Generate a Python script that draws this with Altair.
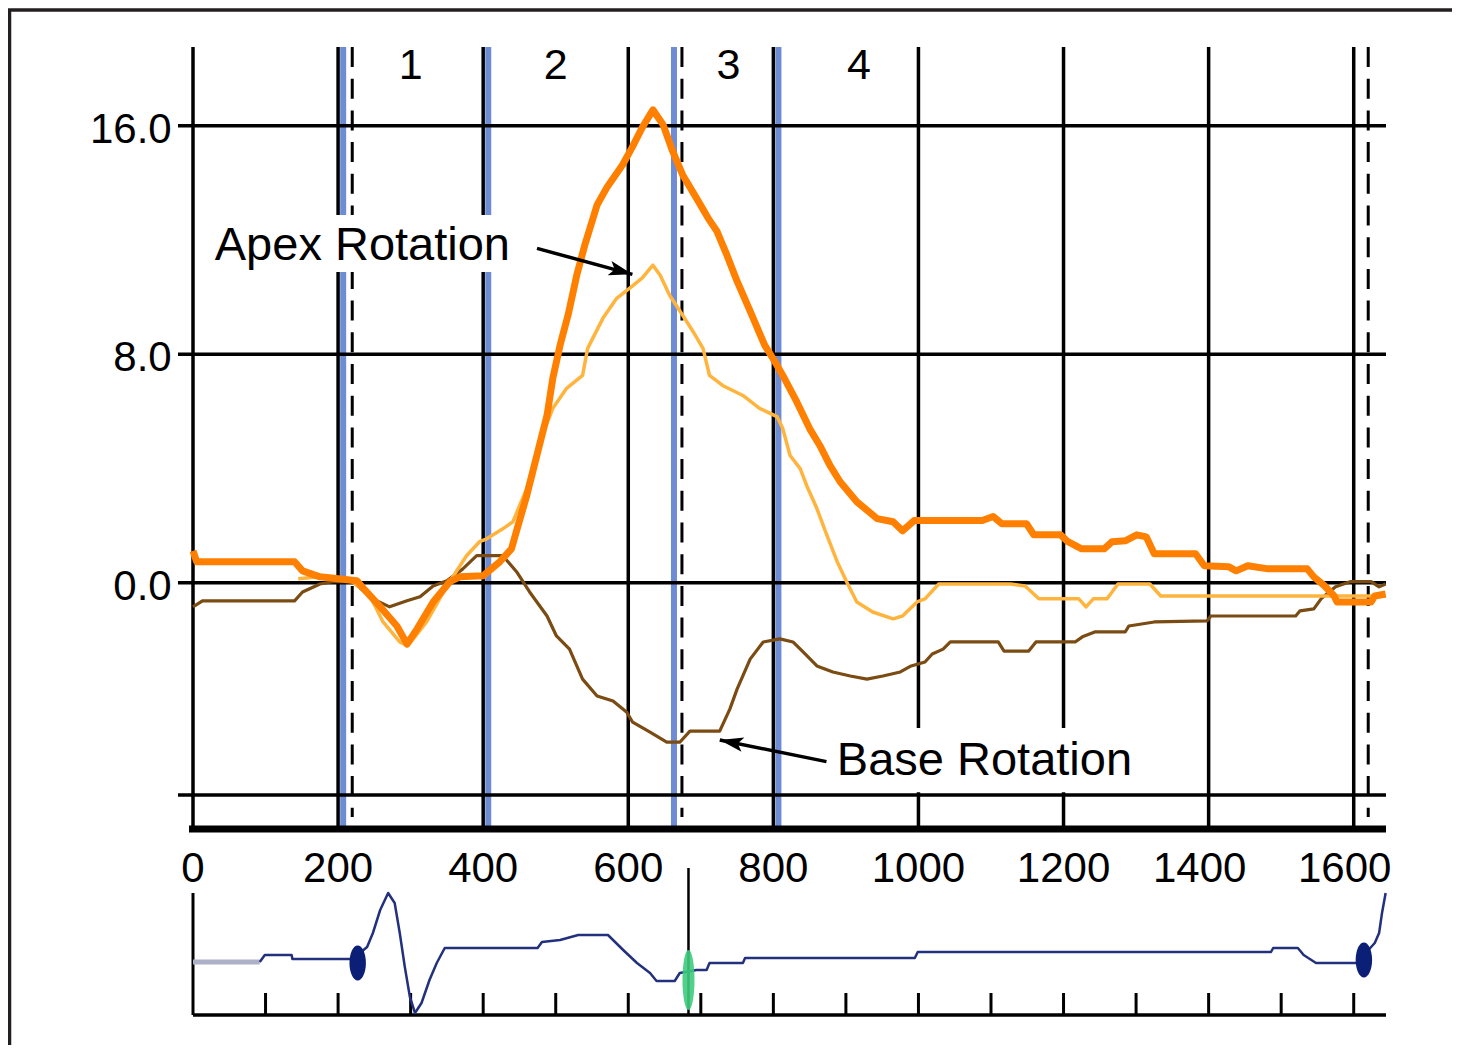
import altair as alt
import pandas as pd

FONT = "Liberation Sans"

# ---------------- values ----------------
x_ticks = [0, 200, 400, 600, 800, 1000, 1200, 1400, 1600]
x_tick_labels = ["0", "200", "400", "600", "800", "1000", "1200", "1400", "1600"]
y_ticks = [16, 8, 0, -7.43]
y_tick_labels = ["16.0", "8.0", "0.0", ""]
phase_labels = ["1", "2", "3", "4"]
phase_x = [300, 500, 738, 918]
phase_y = [17.64, 17.64, 17.64, 17.64]
phase_lines = [207, 407, 663, 807]          # blue event markers
dashed_lines = [219.5, 674, 1620]           # dashed markers
ecg_ticks = [100, 200, 300, 400, 500, 600, 700, 800, 900, 1000,
             1100, 1200, 1300, 1400, 1500, 1600]
ecg_marker = [683]

# apex rotation (thick dark orange)
apex_rotation = [
    (0, 1.12), (5, 0.74), (140, 0.74), (151, 0.42), (175, 0.21), (226, 0.07),
    (233, -0.14), (257, -0.81), (281, -1.51), (295, -2.14), (309, -1.61),
    (331, -0.67), (354, 0.04), (368, 0.21), (400, 0.25), (423, 0.74),
    (439, 1.19), (448, 2.0), (460, 3.05), (474, 4.46), (488, 5.86),
    (496, 7.16), (506, 8.32), (517, 9.37), (529, 10.77), (540, 11.82),
    (557, 13.23), (570, 13.82), (592, 14.63), (605, 15.23), (619, 15.93),
    (634, 16.56), (648, 16.04), (661, 15.12), (675, 14.28), (694, 13.47),
    (710, 12.77), (722, 12.32), (736, 11.47), (750, 10.56), (768, 9.51),
    (788, 8.32), (802, 7.75), (813, 7.26), (832, 6.35), (850, 5.40),
    (864, 4.81), (878, 4.11), (892, 3.54), (915, 2.84), (943, 2.25),
    (965, 2.14), (978, 1.82), (994, 2.18), (1088, 2.18), (1103, 2.32),
    (1115, 2.07), (1149, 2.07), (1159, 1.68), (1196, 1.68), (1206, 1.44),
    (1225, 1.19), (1256, 1.19), (1267, 1.44), (1285, 1.47), (1301, 1.68),
    (1314, 1.61), (1325, 1.02), (1382, 1.02), (1394, 0.60), (1428, 0.56),
    (1438, 0.42), (1454, 0.60), (1482, 0.49), (1536, 0.49), (1545, 0.21),
    (1560, -0.11), (1573, -0.46), (1577, -0.67), (1624, -0.67),
    (1629, -0.46), (1644, -0.39),
]

# second apex trace (thin light orange)
apex_thin = [
    (145, 0.14), (175, 0.21), (220, 0.04), (244, -0.46), (262, -1.37),
    (285, -2.07), (296, -2.21), (322, -1.37), (350, -0.11), (377, 0.95),
    (395, 1.44), (405, 1.54), (427, 1.89), (441, 2.14), (460, 3.30),
    (478, 4.95), (496, 6.11), (515, 6.81), (537, 7.26), (544, 8.21),
    (565, 9.26), (584, 9.96), (602, 10.32), (619, 10.67), (634, 11.12),
    (644, 10.77), (657, 10.07), (675, 9.37), (689, 8.81), (703, 8.21),
    (712, 7.26), (730, 6.91), (758, 6.56), (781, 6.11), (805, 5.82),
    (813, 5.40), (823, 4.46), (837, 4.0), (846, 3.40), (860, 2.60),
    (874, 1.65), (888, 0.74), (901, 0.04), (915, -0.67), (937, -1.02),
    (965, -1.26), (978, -1.16), (998, -0.67), (1009, -0.56), (1028, -0.04),
    (1127, -0.04), (1147, -0.11), (1166, -0.56), (1221, -0.56),
    (1231, -0.84), (1241, -0.56), (1260, -0.56), (1275, -0.04),
    (1319, -0.04), (1334, -0.46), (1644, -0.46),
]

# base rotation (brown)
base_rotation = [
    (0, -0.84), (13, -0.63), (140, -0.63), (151, -0.32), (175, -0.04),
    (193, 0.04), (220, 0.04), (248, -0.56), (271, -0.84), (295, -0.63),
    (313, -0.49), (331, -0.11), (350, 0.07), (372, 0.49), (391, 0.95),
    (427, 0.95), (446, 0.39), (464, -0.32), (488, -1.16), (501, -1.86),
    (519, -2.32), (537, -3.37), (557, -3.96), (579, -4.14), (598, -4.53),
    (606, -4.88), (630, -5.23), (653, -5.58), (671, -5.58), (685, -5.19),
    (726, -5.19), (740, -4.42), (750, -3.72), (768, -2.67), (786, -2.07),
    (809, -1.96), (827, -2.07), (841, -2.42), (860, -2.91), (882, -3.12),
    (906, -3.26), (929, -3.37), (951, -3.26), (975, -3.12), (990, -2.91),
    (1009, -2.77), (1019, -2.49), (1034, -2.32), (1044, -2.07),
    (1110, -2.07), (1118, -2.39), (1152, -2.39), (1162, -2.07),
    (1216, -2.07), (1226, -1.89), (1243, -1.72), (1285, -1.72),
    (1290, -1.51), (1325, -1.37), (1398, -1.33), (1403, -1.16),
    (1520, -1.16), (1526, -0.98), (1545, -0.91), (1555, -0.56),
    (1575, -0.14), (1595, 0.04), (1624, 0.04), (1635, -0.14), (1644, -0.04),
]

# ECG trace (arbitrary amplitude units)
ecg_lead = [(0, 5.3), (92, 5.3)]
ecg = [
    (92, 5.3), (99, 6.0), (136, 6.0), (137, 5.6), (220, 5.6), (240, 6.8),
    (248, 8.2), (258, 10.5), (269, 12.2), (278, 11.2), (285, 8.2),
    (292, 4.8), (299, 1.8), (306, 0.2), (315, 1.2), (326, 3.5), (336, 5.2),
    (347, 6.7), (475, 6.7), (481, 7.3), (506, 7.5), (531, 8.0), (572, 8.0),
    (593, 6.5), (612, 5.2), (630, 4.2), (639, 3.4), (664, 3.4), (671, 4.2),
    (694, 4.5), (708, 4.5), (712, 5.2), (758, 5.2), (761, 5.7), (995, 5.7),
    (999, 6.3), (1486, 6.3), (1489, 6.7), (1523, 6.7), (1531, 6.0),
    (1548, 5.2), (1604, 5.2), (1629, 7.2), (1635, 8.2), (1639, 10.2),
    (1644, 12.2),
]
ecg_blobs = [(227, 5.2), (1614, 5.5)]
ecg_green = [(683, 3.5)]

annot_text = ["Apex Rotation", "Base Rotation"]
annot_x = [30, 887.5]
annot_y = [11.30, -6.73]
annot_box = [(16, 443, 10.88, 12.88), (880, 1300, -7.33, -5.08)]
arrows = [(474.2, 11.71, 605.7, 10.80, 15.2), (873.2, -6.26, 726.1, -5.50, 191.5)]

# ---------------- scales ----------------
X_MAX = 1644.5
Y_TOP, Y_BOT = 18.76, -15.13
AXIS_Y = -8.62
E_TOP = 96.8
TICK_X0 = -20.7          # left end of the y ticks
YLABEL_X = -29.4         # right edge of the y tick labels
XLABEL_Y = -9.32         # top of the x tick labels

xs = alt.Scale(domain=[0, X_MAX], nice=False, zero=False)
ys = alt.Scale(domain=[Y_BOT, Y_TOP], nice=False, zero=False)
es = alt.Scale(domain=[0, E_TOP], nice=False, zero=False)


def X(f):
    return alt.X(f, type="quantitative", scale=xs, axis=None)


def Y(f):
    return alt.Y(f, type="quantitative", scale=ys, axis=None)


def E(f):
    return alt.Y(f, type="quantitative", scale=es, axis=None)


def ellipse_path(rx):
    k = 0.5523
    return (f"M0,-1 C{rx*k:.4f},-1 {rx:.4f},{-k:.4f} {rx:.4f},0 "
            f"C{rx:.4f},{k:.4f} {rx*k:.4f},1 0,1 "
            f"C{-rx*k:.4f},1 {-rx:.4f},{k:.4f} {-rx:.4f},0 "
            f"C{-rx:.4f},{-k:.4f} {-rx*k:.4f},-1 0,-1 Z")


ARROW = "M0,0 L-2,-0.62 L-1.55,0 L-2,0.62 Z"

one = pd.DataFrame({"k": [0]})

# ---------------- main panel ----------------
frame_left = alt.Chart(one).mark_rule(color="#231F20", strokeWidth=3.5).encode(
    x=alt.value(-183.5), y=alt.value(-37), y2=alt.value(1000))
frame_top = alt.Chart(one).mark_rule(color="#231F20", strokeWidth=3.5).encode(
    x=alt.value(-185), x2=alt.value(1260), y=alt.value(-37))

blue = alt.Chart(pd.DataFrame({"x": phase_lines, "y0": AXIS_Y + 0.1, "y1": Y_TOP})).mark_rule(
    color="#6E8CD4", strokeWidth=6).encode(x=X("x"), y=Y("y0"), y2="y1")

vgrid = alt.Chart(pd.DataFrame({"x": x_ticks, "y0": AXIS_Y, "y1": Y_TOP})).mark_rule(
    color="black", strokeWidth=3.5).encode(x=X("x"), y=Y("y0"), y2="y1")

dashed = alt.Chart(pd.DataFrame({"x": dashed_lines, "y0": -8.2, "y1": Y_TOP})).mark_rule(
    color="black", strokeWidth=3, strokeDash=[20, 11.7]).encode(x=X("x"), y=Y("y1"), y2="y0")

hgrid = alt.Chart(pd.DataFrame({"v": y_ticks, "x0": TICK_X0, "x1": X_MAX})).mark_rule(
    color="black", strokeWidth=3.5).encode(x=X("x0"), x2="x1", y=Y("v"))

thick = alt.Chart(pd.DataFrame({"x0": [-5.5], "x1": [X_MAX], "v": [AXIS_Y]})).mark_rule(
    color="black", strokeWidth=7).encode(x=X("x0"), x2="x1", y=Y("v"))

ylabels = alt.Chart(pd.DataFrame({"label": y_tick_labels, "v": y_ticks, "x": YLABEL_X})).mark_text(
    align="right", baseline="middle", dy=4, font=FONT, fontSize=42, color="black").encode(
    x=X("x"), y=Y("v"), text="label:N")

xl_df = pd.DataFrame({"label": x_tick_labels, "x": x_ticks, "v": XLABEL_Y})
xlabels = alt.Chart(xl_df).transform_filter("datum.x < 1400").mark_text(
    align="center", baseline="top", font=FONT, fontSize=42, color="black").encode(
    x=X("x"), y=Y("v"), text="label:N")
xlabels_r = alt.Chart(xl_df).transform_filter("datum.x >= 1400").mark_text(
    align="center", baseline="top", dx=-9, font=FONT, fontSize=42, color="black").encode(
    x=X("x"), y=Y("v"), text="label:N")

boxes = alt.Chart(pd.DataFrame(annot_box, columns=["x0", "x1", "y0", "y1"])).mark_rect(
    color="white").encode(x=X("x0"), x2="x1", y=Y("y0"), y2="y1")

brown = alt.Chart(pd.DataFrame(base_rotation, columns=["x", "v"])).mark_line(
    color="#7A4B12", strokeWidth=3.2, strokeJoin="round").encode(x=X("x"), y=Y("v"))
light = alt.Chart(pd.DataFrame(apex_thin, columns=["x", "v"])).mark_line(
    color="#FFB43E", strokeWidth=3.5, strokeJoin="round").encode(x=X("x"), y=Y("v"))
dark = alt.Chart(pd.DataFrame(apex_rotation, columns=["x", "v"])).mark_line(
    color="#FF8000", strokeWidth=7, strokeJoin="round").encode(x=X("x"), y=Y("v"))

arr_df = pd.DataFrame(arrows, columns=["x0", "y0", "x1", "y1", "ang"])
shafts = alt.Chart(arr_df).mark_rule(color="black", strokeWidth=3.5).encode(
    x=X("x0"), y=Y("y0"), x2="x1", y2="y1")
heads = alt.Chart(arr_df).mark_point(
    shape=ARROW, filled=True, color="black", size=560, opacity=1).encode(
    x=X("x1"), y=Y("y1"), angle=alt.Angle("ang", type="quantitative", scale=None))

annots = alt.Chart(pd.DataFrame({"label": annot_text, "x": annot_x, "v": annot_y})).mark_text(
    align="left", baseline="alphabetic", font=FONT, fontSize=47, color="black").encode(
    x=X("x"), y=Y("v"), text="label:N")

phases = alt.Chart(pd.DataFrame({"label": phase_labels, "x": phase_x, "v": phase_y})).mark_text(
    align="center", baseline="alphabetic", font=FONT, fontSize=43, color="black").encode(
    x=X("x"), y=Y("v"), text="label:N")

main = alt.layer(frame_left, frame_top, blue, vgrid, dashed, hgrid, thick, ylabels,
                 xlabels, xlabels_r, boxes, brown, light, dark, shafts, heads,
                 annots, phases)

# ---------------- ECG strip ----------------
e_base = alt.Chart(pd.DataFrame({"x0": [0.0], "x1": [X_MAX], "a": [0.0]})).mark_rule(
    color="black", strokeWidth=3.5).encode(x=X("x0"), x2="x1", y=E("a"))
e_left = alt.Chart(pd.DataFrame({"x": [0.0], "a0": [0.0], "a1": [12.2]})).mark_rule(
    color="black", strokeWidth=3).encode(x=X("x"), y=E("a0"), y2="a1")
e_ticks = alt.Chart(pd.DataFrame({"x": ecg_ticks, "a0": 0.0, "a1": 2.2})).mark_rule(
    color="black", strokeWidth=3).encode(x=X("x"), y=E("a0"), y2="a1")
e_marker = alt.Chart(pd.DataFrame({"x": ecg_marker, "a0": 0.0, "a1": 14.7})).mark_rule(
    color="black", strokeWidth=2.5).encode(x=X("x"), y=E("a0"), y2="a1")
e_lead = alt.Chart(pd.DataFrame(ecg_lead, columns=["x", "a"])).mark_line(
    color="#AEB0C8", strokeWidth=5).encode(x=X("x"), y=E("a"))
e_line = alt.Chart(pd.DataFrame(ecg, columns=["x", "a"])).mark_line(
    color="#22307E", strokeWidth=2.5, strokeJoin="round").encode(x=X("x"), y=E("a"))
e_blobs = alt.Chart(pd.DataFrame(ecg_blobs, columns=["x", "a"])).mark_point(
    shape=ellipse_path(0.47), filled=True, color="#0B1F77", size=1225, opacity=1).encode(
    x=X("x"), y=E("a"))
e_green = alt.Chart(pd.DataFrame(ecg_green, columns=["x", "a"])).mark_point(
    shape=ellipse_path(0.2), filled=True, color="#3DCB7B", size=3600, opacity=0.9).encode(
    x=X("x"), y=E("a"))

strip = alt.layer(e_base, e_left, e_ticks, e_marker, e_lead, e_line, e_blobs, e_green)

chart = alt.layer(main, strip).resolve_scale(y="independent").properties(
    width=1193, height=968,
    autosize=alt.AutoSizeParams(type="none"),
    padding={"left": 185, "top": 39, "right": 66, "bottom": 30},
    background="white",
).configure_view(stroke="transparent")

chart.save("out.html", embed_options={"renderer": "svg", "actions": False})
